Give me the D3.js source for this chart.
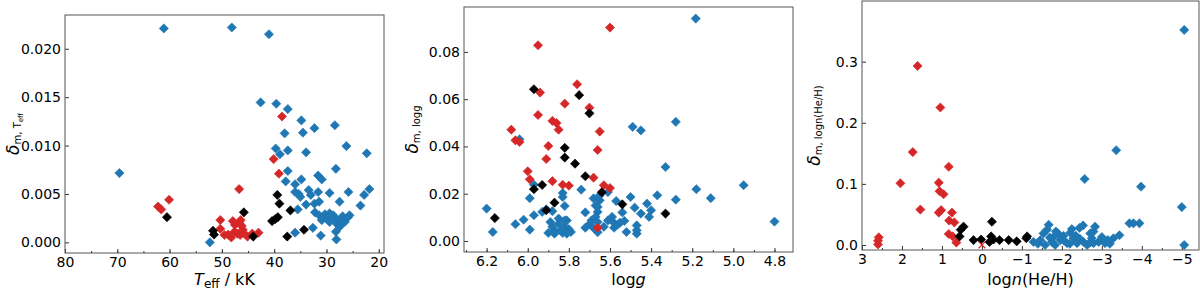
<!DOCTYPE html>
<html lang="en">
<head>
<meta charset="UTF-8">
<title>delta_m scatter</title>
<script src="https://d3js.org/d3.v7.min.js"></script>
<style>
  body { margin: 0; background: #fff; }
  svg { display: block; }
  text { font-family: "DejaVu Sans", sans-serif; fill: #000; }
  .tick text { font-size: 14px; }
</style>
</head>
<body>
<svg id="chart" width="1200" height="290"></svg>
<script>
// ---- panel 1: Teff / kK vs delta_m,Teff ----
const teffBlue = [
  [61.1,0.0221],[48.1,0.0222],[41.0,0.0215],[69.6,0.00716],[52.3,0.0000],
  [42.6,0.01446],[39.6,0.01432],[37.4,0.01377],[34.8,0.0126],[32.3,0.0118],
  [28.4,0.0121],[38.0,0.01126],[34.5,0.01133],[39.7,0.0097],[38.9,0.0091],
  [37.4,0.0095],[33.9,0.0093],[26.2,0.00995],[22.3,0.0092],[37.4,0.00737],
  [37.8,0.0063],[36.0,0.0060],[34.8,0.0065],[31.6,0.0069],[30.9,0.0065],
  [28.2,0.0076],[36.0,0.0052],[35.3,0.0050],[35.0,0.0047],[33.4,0.0054],
  [33.0,0.0049],[31.6,0.0052],[29.4,0.0051],[27.5,0.0042],[25.8,0.0052],
  [22.8,0.0049],[21.8,0.0055],[23.5,0.0038],[35.5,0.0034],[33.9,0.0039],
  [32.3,0.0040],[31.4,0.0042],[32.2,0.0031],[31.4,0.0028],[30.3,0.0029],
  [29.4,0.0030],[28.7,0.0028],[30.9,0.0023],[30.0,0.0025],[28.4,0.0025],
  [27.5,0.0023],[26.9,0.0027],[26.5,0.0021],[25.9,0.0026],[25.6,0.0028],
  [29.4,0.0021],[28.0,0.0019],[27.5,0.0016],[32.6,0.0015],[36.0,0.0010],
  [28.2,0.0011],[31.1,0.0007],[28.1,0.0003],[29.8,0.0024],[27.0,0.0020]
];
const teffRed = [
  [38.5,0.0130],[40.1,0.0086],[39.1,0.0071],[46.7,0.0055],[62.2,0.0037],
  [61.6,0.0034],[60.1,0.0044],[50.3,0.0023],[50.3,0.0014],[49.5,0.00076],
  [48.2,0.0005],[47.9,0.0022],[47.5,0.0018],[46.7,0.0020],[46.4,0.0023],
  [46.0,0.0013],[45.7,0.0009],[47.0,0.0009],[47.6,0.0011],[46.5,0.00076],
  [44.2,0.0009],[43.0,0.0010],[45.1,0.0006],[48.8,0.0008],[46.2,0.0017]
];
const teffBlack = [
  [60.5,0.0026],[51.7,0.0012],[51.5,0.0008],[45.8,0.0031],[44.0,0.0006],
  [39.4,0.0049],[39.0,0.0040],[40.4,0.0022],[39.8,0.0024],[39.3,0.0026],
  [36.9,0.0033],[37.5,0.0006],[34.3,0.0013]
];
const teffXTicks = [80, 70, 60, 50, 40, 30, 20];
const teffYTicks = [0, 0.005, 0.010, 0.015, 0.020];

// ---- panel 2: log g vs delta_m,logg ----
const loggBlue = [
  [5.183,0.0941],[6.20,0.0137],[6.17,0.0038],[6.06,0.0071],[6.02,0.0090],
  [5.99,0.0048],[5.99,0.0181],[5.97,0.0109],[5.97,0.0238],[5.93,0.0123],
  [5.91,0.0134],[6.04,0.0430],[5.88,0.0126],[5.89,0.0080],[5.88,0.0060],
  [5.87,0.0045],[5.90,0.0034],[5.85,0.0073],[5.85,0.0095],[5.83,0.0034],
  [5.82,0.0060],[5.81,0.0038],[5.80,0.0050],[5.79,0.0038],[5.82,0.0087],
  [5.83,0.0203],[5.83,0.0186],[5.82,0.0148],[5.81,0.0087],[5.84,0.0045],
  [5.87,0.0031],[5.81,0.0031],[5.74,0.0217],[5.72,0.0121],[5.72,0.0056],
  [5.70,0.0071],[5.69,0.0087],[5.68,0.0055],[5.68,0.0180],[5.67,0.0150],
  [5.66,0.0123],[5.65,0.0172],[5.65,0.0193],[5.66,0.0144],[5.67,0.0102],
  [5.66,0.0080],[5.66,0.0037],[5.63,0.0060],[5.61,0.0207],[5.61,0.0087],
  [5.59,0.0102],[5.58,0.0076],[5.58,0.0056],[5.56,0.0071],[5.57,0.0169],
  [5.55,0.0078],[5.54,0.0121],[5.53,0.0085],[5.52,0.0038],[5.50,0.0186],
  [5.49,0.0483],[5.45,0.0468],[5.48,0.0141],[5.47,0.0066],[5.47,0.0045],
  [5.47,0.0031],[5.45,0.0116],[5.42,0.0158],[5.41,0.0102],[5.40,0.0130],
  [5.37,0.0193],[5.33,0.0313],[5.28,0.0504],[5.28,0.0175],[5.18,0.0219],
  [5.11,0.0181],[4.95,0.0236],[4.80,0.0082]
];
const loggRed = [
  [5.60,0.0903],[5.95,0.0828],[6.08,0.0471],[6.06,0.0426],[6.04,0.0419],
  [6.00,0.0295],[5.99,0.0261],[5.94,0.0628],[5.95,0.0533],[5.88,0.0508],
  [5.86,0.0499],[5.85,0.0471],[5.90,0.0402],[5.91,0.0347],[5.88,0.0253],
  [5.82,0.0581],[5.83,0.0238],[5.80,0.0234],[5.76,0.0663],[5.70,0.0564],
  [5.65,0.0463],[5.66,0.0385],[5.68,0.0268],[5.63,0.0236],[5.60,0.0224],
  [5.66,0.0056]
];
const loggBlack = [
  [6.16,0.0097],[5.97,0.0642],[5.97,0.0219],[5.93,0.0237],[5.91,0.0130],
  [5.87,0.0162],[5.82,0.0394],[5.82,0.0353],[5.77,0.0327],[5.75,0.0617],
  [5.70,0.0540],[5.72,0.0274],[5.64,0.0206],[5.54,0.0155],[5.33,0.0116]
];
const loggXTicks = [6.2, 6.0, 5.8, 5.6, 5.4, 5.2, 5.0, 4.8];
const loggYTicks = [0, 0.02, 0.04, 0.06, 0.08];

// ---- panel 3: log n(He/H) vs delta_m,logn(He/H) ----
const henBlue = [
  [-5.06,0.352],[-3.36,0.155],[-2.57,0.108],[-3.98,0.0955],[-5.00,0.062],
  [-5.06,0.000],[-3.69,0.0355],[-3.79,0.0355],[-3.94,0.0355],[-3.44,0.016],
  [-3.29,0.011],[-2.83,0.030],[-2.53,0.032],[-2.44,0.028],[-2.25,0.026],
  [-2.21,0.020],[-1.67,0.033],[-1.63,0.025],[-1.54,0.019],[-1.90,0.019],
  [-2.04,0.015],[-1.29,0.005],[-1.46,0.008],[-1.58,0.000],[-1.75,0.005],
  [-1.83,0.000],[-1.96,0.008],[-2.13,0.003],[-2.29,0.011],[-2.38,0.003],
  [-2.54,0.005],[-2.63,0.000],[-2.75,0.011],[-2.79,0.003],[-2.92,0.005],
  [-3.00,0.013],[-3.08,0.003],[-2.71,0.019],[-2.79,0.022],[-1.79,0.013],
  [-1.40,0.002],[-1.70,0.012],[-2.05,0.007],[-2.20,0.002],[-2.45,0.010],
  [-2.70,0.004],[-3.15,0.008],[-1.85,0.022],[-2.35,0.015],[-3.20,0.002]
];
const henRed = [
  [1.61,0.293],[1.04,0.225],[1.73,0.152],[2.04,0.101],[0.83,0.128],
  [1.08,0.102],[1.06,0.088],[0.96,0.083],[1.54,0.058],[1.08,0.053],
  [1.02,0.057],[0.75,0.053],[0.82,0.040],[0.69,0.037],[0.83,0.018],
  [0.73,0.014],[0.64,0.004],[2.58,0.0125],[2.60,0.007],[2.60,0.001]
];
const henBlack = [
  [0.46,0.030],[0.53,0.025],[0.56,0.014],[0.21,0.008],[0.02,0.009],
  [-0.25,0.038],[-0.23,0.014],[-0.19,0.005],[-0.29,0.009],[-0.44,0.008],
  [-0.67,0.008],[-0.87,0.006],[-1.13,0.014],[-1.11,0.011]
];
const henCross = [[0.0, 0.0]];
const henXTicks = [3, 2, 1, 0, -1, -2, -3, -4, -5];
const henYTicks = [0, 0.1, 0.2, 0.3];

const svg = d3.select("#chart");
const colors = { blue: "#1f77b4", red: "#d62728", black: "#000000" };

const panels = [
  {
    box: { left: 65, right: 384, top: 15, bottom: 253 },
    xDomain: [80, 19], yDomain: [-0.0011, 0.02349],
    xTicks: teffXTicks, xMinor: d3.range(75, 19, -5), xFmt: d3.format("d"),
    yTicks: teffYTicks, yFmt: d3.format(".3f"),
    series: [[teffBlue, "blue"], [teffRed, "red"], [teffBlack, "black"]],
    yLabelX: 19,
    yLabel: [["\u03b4", 17, 0, "italic"], ["m, T", 10, 2, "normal"], ["eff", 7, 1.5, "normal"]],
    xLabel: [["T", 16, 0, "italic"], ["eff", 12, 3, "normal"], [" / kK", 16, -3, "normal"]]
  },
  {
    box: { left: 464, right: 793, top: 7, bottom: 252 },
    xDomain: [6.31, 4.71], yDomain: [-0.00466, 0.0990],
    xTicks: loggXTicks, xMinor: d3.range(6.3, 4.7, -0.1), xFmt: d3.format(".1f"),
    yTicks: loggYTicks, yFmt: d3.format(".2f"),
    series: [[loggBlue, "blue"], [loggRed, "red"], [loggBlack, "black"]],
    yLabelX: 418,
    yLabel: [["\u03b4", 17, 0, "italic"], ["m, logg", 10, 2, "normal"]],
    xLabel: [["log", 16, 0, "normal"], ["g", 16, 0, "italic"]]
  },
  {
    box: { left: 862, right: 1199, top: 1, bottom: 250 },
    xDomain: [3, -5.43], yDomain: [-0.0082, 0.3993],
    xTicks: henXTicks, xMinor: d3.range(2.5, -5.4, -1), xFmt: d3.format("d"),
    yTicks: henYTicks, yFmt: d3.format(".1f"),
    series: [[henBlue, "blue"], [henRed, "red"], [henBlack, "black"]],
    yLabelX: 820,
    yLabel: [["\u03b4", 17, 0, "italic"], ["m, logn(He/H)", 10, 2, "normal"]],
    xLabel: [["log", 16, 0, "normal"], ["n", 16, 0, "italic"], ["(He/H)", 16, 0, "normal"]]
  }
];

const diamond = d3.symbol(d3.symbolSquare, 42);

function addRich(textSel, parts) {
  parts.forEach(([str, size, dy, style]) => {
    textSel.append("tspan")
      .attr("font-size", size)
      .attr("font-style", style)
      .attr("dy", dy)
      .text(str);
  });
}

panels.forEach((p, i) => {
  const b = p.box;
  const x = d3.scaleLinear().domain(p.xDomain).range([b.left, b.right]);
  const y = d3.scaleLinear().domain(p.yDomain).range([b.bottom, b.top]);
  const g = svg.append("g").attr("class", "panel" + i);

  // x axis (ticks point inward)
  const xAxis = g.append("g")
    .attr("transform", `translate(0,${b.bottom})`)
    .call(d3.axisBottom(x).tickValues(p.xTicks).tickFormat(p.xFmt).tickSizeInner(-4).tickSizeOuter(0).tickPadding(4));
  xAxis.select(".domain").remove();
  xAxis.selectAll(".tick line").attr("stroke", "#333");
  g.append("g")
    .attr("transform", `translate(0,${b.bottom})`)
    .call(d3.axisBottom(x).tickValues(p.xMinor).tickFormat("").tickSizeInner(-2).tickSizeOuter(0))
    .call(a => a.select(".domain").remove())
    .selectAll(".tick line").attr("stroke", "#333");

  // y axis
  const yAxis = g.append("g")
    .attr("transform", `translate(${b.left},0)`)
    .call(d3.axisLeft(y).tickValues(p.yTicks).tickFormat(p.yFmt).tickSizeInner(-4).tickSizeOuter(0).tickPadding(4));
  yAxis.select(".domain").remove();
  yAxis.selectAll(".tick line").attr("stroke", "#333");

  // markers
  p.series.forEach(([data, col]) => {
    g.append("g").selectAll("path")
      .data(data)
      .enter().append("path")
      .attr("d", diamond)
      .attr("transform", d => `translate(${x(d[0])},${y(d[1])}) rotate(45)`)
      .attr("fill", colors[col])
      .attr("stroke", colors[col])
      .attr("stroke-width", 0.6);
  });

  if (i === 2) {
    // single red x marker at the origin
    g.append("g").selectAll("path")
      .data(henCross)
      .enter().append("path")
      .attr("d", d3.symbol(d3.symbolX, 30))
      .attr("transform", d => `translate(${x(d[0])},${y(d[1])})`)
      .attr("fill", "none")
      .attr("stroke", colors.red)
      .attr("stroke-width", 1.2);
  }

  // frame
  g.append("rect")
    .attr("x", b.left).attr("y", b.top)
    .attr("width", b.right - b.left).attr("height", b.bottom - b.top)
    .attr("fill", "none").attr("stroke", "#555").attr("stroke-width", 1);

  // labels
  const xl = g.append("text")
    .attr("x", (b.left + b.right) / 2)
    .attr("y", 285)
    .attr("text-anchor", "middle");
  addRich(xl, p.xLabel);

  const yl = g.append("text")
    .attr("transform", `translate(${p.yLabelX},${(b.top + b.bottom) / 2}) rotate(-90)`)
    .attr("text-anchor", "middle");
  addRich(yl, p.yLabel);
});
</script>
</body>
</html>
